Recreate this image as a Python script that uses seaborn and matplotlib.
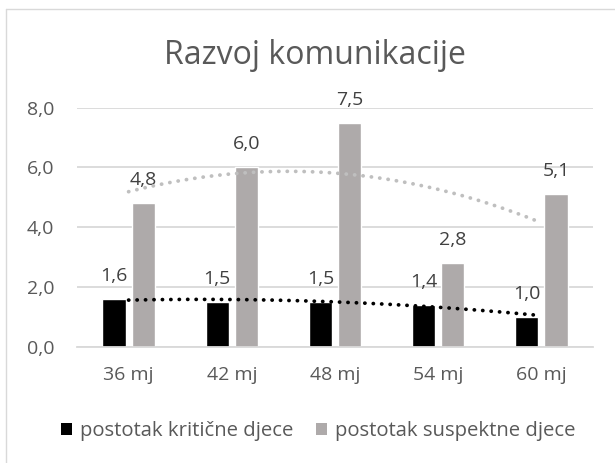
import numpy as np
import pandas as pd
import seaborn as sns
import matplotlib.pyplot as plt
from matplotlib.lines import Line2D
from matplotlib.patches import Patch

sns.set_style("white")
plt.rcParams['font.family'] = ['Open Sans', 'DejaVu Sans']

# data
categories = ["36 mj", "42 mj", "48 mj", "54 mj", "60 mj"]
kriticne = [1.6, 1.5, 1.5, 1.4, 1.0]
suspektne = [4.8, 6.0, 7.5, 2.8, 5.1]
series_names = ["postotak kritične djece", "postotak suspektne djece"]
colors = ["#000000", "#AEAAAA"]
trend_colors = ["#000000", "#BFBFBF"]

df = pd.DataFrame({
    "kat": categories * 2,
    "val": kriticne + suspektne,
    "serija": [series_names[0]] * 5 + [series_names[1]] * 5,
})

fig = plt.figure(figsize=(6.15, 4.63), dpi=100)
ax = fig.add_axes([77 / 615, 1 - 346.7 / 463, 516 / 615, (346.7 - 107.7) / 463])

sns.barplot(data=df, x="kat", y="val", hue="serija", palette=colors,
            width=0.566, gap=0.21, ax=ax, legend=False, saturation=1,
            errorbar=None)

# data labels
for cont in ax.containers:
    for bar in cont:
        h = bar.get_height()
        ax.annotate(f"{h:.1f}".replace(".", ","),
                    (bar.get_x() + bar.get_width() / 2, h),
                    xytext=(0, 13), textcoords="offset points",
                    ha="center", va="baseline", fontsize=14, color="#404040")

# polynomial trendlines (order 2)
xs = np.arange(len(categories))
xf = np.linspace(0, len(categories) - 1, 200)
for vals, c in zip([kriticne, suspektne], trend_colors):
    p = np.polyfit(xs, vals, 2)
    ax.plot(xf, np.polyval(p, xf), color=c, lw=2.7, linestyle=(0, (0.05, 2.2)),
            dash_capstyle="round", zorder=5)

ax.set_ylim(0, 8)
ax.set_xlim(-0.5, len(categories) - 0.5)
ax.set_yticks([0, 2, 4, 6, 8])
ax.set_yticklabels([f"{v:.1f}".replace(".", ",") for v in [0, 2, 4, 6, 8]])
ax.yaxis.grid(True, color="#D9D9D9", lw=1.3)
ax.set_axisbelow(True)
ax.tick_params(axis="both", length=0, labelsize=14, labelcolor="#595959")
ax.tick_params(axis="y", pad=16.5)
ax.tick_params(axis="x", pad=14)
ax.set_xlabel("")
ax.set_ylabel("")
for s in ["top", "right", "left"]:
    ax.spines[s].set_visible(False)
ax.spines["bottom"].set_color("#D9D9D9")
ax.spines["bottom"].set_linewidth(1.3)

fig.text(315 / 615, 1 - 55 / 463, "Razvoj komunikacije", ha="center", va="center",
         fontsize=23, color="#595959")

handles = [Patch(facecolor=c, edgecolor="none") for c in colors]
fig.legend(handles, series_names, loc="center", bbox_to_anchor=(318 / 615, 1 - 431 / 463),
           ncol=2, frameon=False, fontsize=14.6, labelcolor="#595959",
           handlelength=0.55, handleheight=0.55, handletextpad=0.4, columnspacing=1.1)

# chart border
fig.add_artist(Line2D([6 / 615, 1], [1 - 9 / 463] * 2, color="#D9D9D9", lw=1))
fig.add_artist(Line2D([6 / 615] * 2, [0, 1 - 9 / 463], color="#D9D9D9", lw=1))

plt.savefig("out.png", dpi=100)
